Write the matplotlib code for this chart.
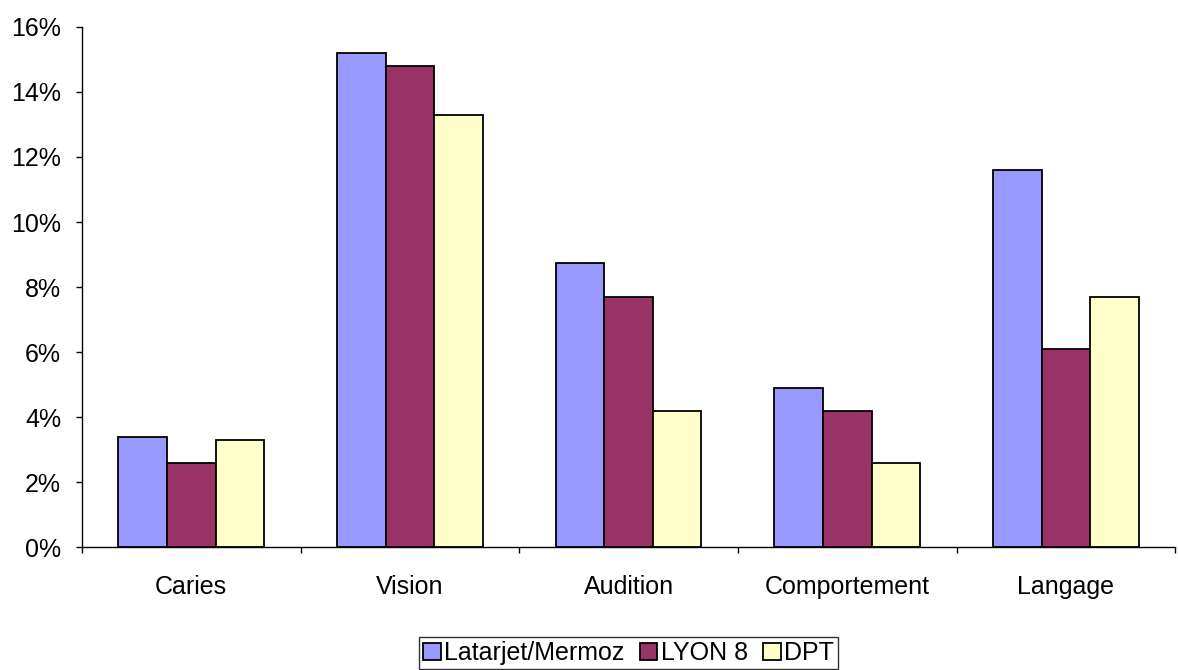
import matplotlib.pyplot as plt
import numpy as np
from matplotlib.ticker import FuncFormatter, MultipleLocator

plt.rcParams['font.family'] = ['Liberation Sans', 'DejaVu Sans']

# Données (%)
categories = ['Caries', 'Vision', 'Audition', 'Comportement', 'Langage']
latarjet = [3.4, 15.2, 8.75, 4.9, 11.6]
lyon8 = [2.6, 14.8, 7.7, 4.2, 6.1]
dpt = [3.3, 13.3, 4.2, 2.6, 7.7]

series = [
    ('Latarjet/Mermoz', latarjet, '#9999FF'),
    ('LYON 8', lyon8, '#993366'),
    ('DPT', dpt, '#FFFFCC'),
]

fig = plt.figure(figsize=(11.78, 6.70), dpi=100)
ax = fig.add_axes([0.0696, 0.183, 0.928, 0.777])

x = np.arange(len(categories))
largeur = 1 / 4.5
for i, (nom, valeurs, couleur) in enumerate(series):
    ax.bar(x + (i - 1) * largeur, valeurs, width=largeur, color=couleur,
           edgecolor='black', linewidth=1.3, label=nom)

ax.set_xlim(-0.5, len(categories) - 0.5)
ax.set_ylim(0, 16)
ax.yaxis.set_major_locator(MultipleLocator(2))
ax.yaxis.set_major_formatter(FuncFormatter(lambda v, p: f'{v:.0f}%'))

# Graduations aux limites des catégories, étiquettes au centre
ax.set_xticks(np.arange(-0.5, len(categories), 1))
ax.set_xticklabels([])
ax.set_xticks(x, minor=True)
ax.set_xticklabels(categories, minor=True)
ax.tick_params(axis='x', which='minor', length=0, pad=20, labelsize=18)
ax.tick_params(axis='x', which='major', length=4, width=1)
ax.tick_params(axis='y', length=4, width=1, labelsize=18, pad=11)

for s in ['top', 'right']:
    ax.spines[s].set_visible(False)
for s in ['left', 'bottom']:
    ax.spines[s].set_linewidth(1)

leg = ax.legend(loc='upper center', bbox_to_anchor=(0.5, -0.173), ncol=3,
                frameon=True, fancybox=False, edgecolor='black', fontsize=18,
                handlelength=0.7, handleheight=0.7, handletextpad=0.15,
                columnspacing=0.6, borderpad=0.15, borderaxespad=0)
leg.get_frame().set_linewidth(1)

fig.savefig('out.png', dpi=100)
